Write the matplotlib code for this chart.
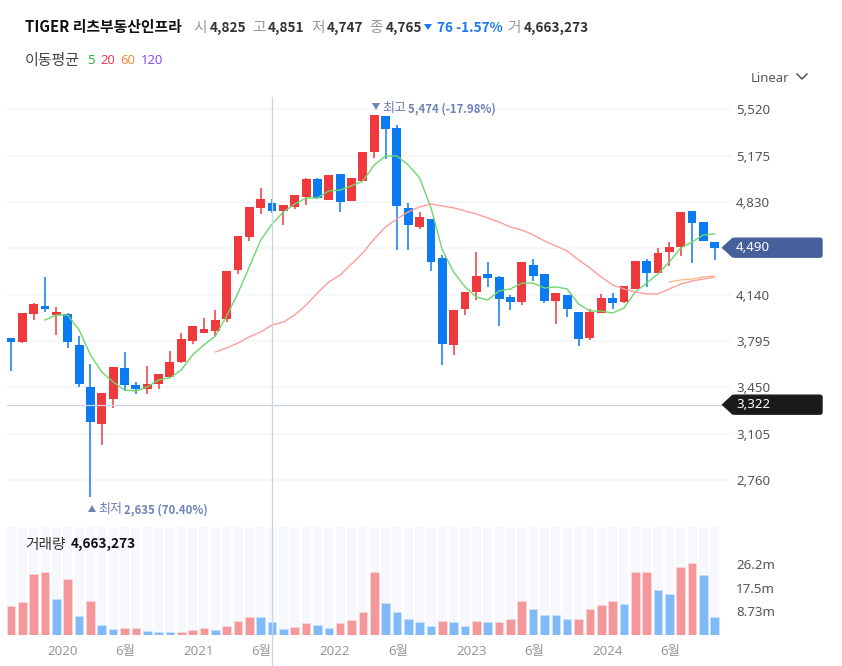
# coding=utf-8
import matplotlib
matplotlib.use('Agg')
import matplotlib.pyplot as plt
from matplotlib.patches import FancyBboxPatch, Polygon

plt.rcParams['font.family'] = ['Noto Sans', 'Noto Sans CJK KR', 'DejaVu Sans']

# 월봉 데이터
opens = [3818, 3788, 3997, 4059, 3989, 3997, 3766, 3454, 3179, 3364, 3595, 3469, 3439, 3476, 3528, 3640,
         3796, 3855, 3870, 3960, 4324, 4570, 4786, 4825, 4763, 4793, 4867, 5001, 4845, 5038, 4838, 4986,
         5202, 5470, 5381, 4786, 4644, 4704, 4413, 3766, 4034, 4161, 4295, 4272, 4123, 4086, 4361, 4295,
         4094, 4138, 4012, 3818, 4004, 4116, 4086, 4183, 4391, 4302, 4458, 4495, 4763, 4681, 4532]
highs = [3818, 4004, 4079, 4272, 4049, 4004, 3833, 3625, 3409, 3603, 3714, 3491, 3610, 3550, 3722, 3855,
         3908, 3967, 4027, 4317, 4577, 4793, 4934, 4851, 4808, 4882, 5009, 5009, 5031, 5038, 5009, 5202,
         5474, 5470, 5403, 4823, 4756, 4704, 4436, 4027, 4161, 4458, 4384, 4280, 4138, 4384, 4406, 4295,
         4153, 4138, 4012, 4034, 4146, 4153, 4205, 4391, 4406, 4488, 4532, 4756, 4763, 4681, 4532]
lows = [3575, 3781, 3952, 4012, 3841, 3744, 3454, 2635, 3022, 3297, 3424, 3402, 3402, 3439, 3528, 3632,
        3774, 3855, 3833, 3937, 4295, 4540, 4741, 4747, 4659, 4778, 4808, 4852, 4845, 4756, 4838, 4986,
        5157, 5150, 4473, 4473, 4629, 4317, 3617, 3692, 3989, 4101, 4198, 3908, 4027, 4064, 4242, 4079,
        3922, 3975, 3759, 3803, 4004, 4034, 4079, 4183, 4198, 4302, 4354, 4428, 4376, 4540, 4399]
closes = [3788, 4004, 4071, 4034, 4012, 3788, 3476, 3193, 3409, 3603, 3469, 3439, 3476, 3550, 3640, 3811,
          3908, 3885, 3952, 4317, 4577, 4793, 4852, 4765, 4808, 4882, 5001, 4860, 5031, 4830, 5009, 5202,
          5474, 5373, 4800, 4659, 4719, 4384, 3774, 4027, 4161, 4280, 4265, 4108, 4086, 4384, 4280, 4094,
          4153, 4034, 3811, 4012, 4116, 4079, 4205, 4391, 4302, 4451, 4495, 4756, 4674, 4540, 4490]

ma5 = [3952, 3989, 3989, 3878, 3692, 3565, 3491, 3431, 3424, 3454, 3506, 3521, 3580, 3692, 3766, 3833,
       3982, 4153, 4347, 4547, 4666, 4756, 4815, 4860, 4860, 4912, 4919, 4949, 4986, 5105, 5172, 5172,
       5105, 5009, 4786, 4473, 4309, 4198, 4123, 4101, 4168, 4183, 4227, 4227, 4190, 4198, 4183, 4071,
       4019, 4019, 4004, 4041, 4161, 4227, 4295, 4384, 4488, 4532, 4585, 4592]
ma20 = [3714, 3744, 3781, 3826, 3863, 3915, 3937, 3989, 4064, 4153, 4235, 4287, 4369, 4451, 4555, 4644,
        4704, 4756, 4793, 4815, 4800, 4786, 4763, 4741, 4711, 4681, 4644, 4622, 4585, 4540, 4503, 4466,
        4399, 4339, 4272, 4213, 4183, 4161, 4146, 4146, 4183, 4220, 4242, 4257, 4272]
ma60 = [4235, 4250, 4257, 4272, 4279]

volumes = [10.65, 12.4, 22.7, 23.5, 13.2, 20.8, 6.9, 12.75, 3.8, 2.1, 2.6, 2.6, 1.6, 1.2, 1.2, 1.2,
           1.7, 2.6, 1.7, 3.5, 5.2, 6.6, 6.6, 4.7, 2.1, 3.0, 4.3, 3.8, 2.6, 4.3, 5.7, 8.4,
           23.5, 11.9, 8.4, 6.1, 4.7, 3.5, 5.2, 4.7, 3.5, 5.2, 4.7, 4.7, 6.1, 12.75, 9.7, 7.4,
           7.4, 6.1, 6.1, 9.7, 11.0, 12.75, 11.4, 23.5, 23.5, 16.8, 15.1, 25.3, 26.6, 22.2, 6.6]
volume_up = [1, 1, 1, 1, 0, 1, 0, 1, 0, 0, 1, 1, 0, 0, 0, 1,
             1, 1, 0, 1, 1, 1, 0, 0, 0, 1, 1, 0, 0, 1, 1, 1,
             1, 0, 0, 0, 0, 0, 1, 0, 0, 1, 0, 1, 1, 1, 0, 0,
             0, 0, 1, 1, 1, 1, 0, 1, 1, 0, 0, 1, 1, 0, 0]

price_ticks = [5520, 5175, 4830, 4485, 4140, 3795, 3450, 3105, 2760]
price_labels = ['5,520', '5,175', '4,830', '', '4,140', '3,795', '3,450', '3,105', '2,760']
volume_ticks = [8.73, 17.5, 26.2]
volume_labels = ['8.73m', '17.5m', '26.2m']
date_ticks = [3, 9, 15, 21, 27, 33, 39, 45, 51, 57]
date_labels = ['2020', '6월', '2021', '6월', '2022', '6월', '2023', '6월', '2024', '6월']

current_price = 4490
cross_price = 3322
cross_index = 23

RED = '#f0393d'
BLUE = '#0a7bf0'
BOLD_FONT = ['Noto Sans CJK KR', 'DejaVu Sans']  # Noto Sans는 굵은 글꼴이 안 나옴
W, H = 842, 666


def pxAxes(left, top, right, bottom):  # 픽셀 좌표로 axes 만들기
    return fig.add_axes([left / W, 1 - bottom / H, (right - left) / W, (bottom - top) / H])


fig = plt.figure(figsize=(W / 100, H / 100), dpi=100)
ax = pxAxes(7, 97, 732, 520)
volAx = pxAxes(7, 527, 732, 635)
over = fig.add_axes([0, 0, 1, 1])
over.set_xlim(0, W)
over.set_ylim(H, 0)
over.axis('off')
over.patch.set_alpha(0)

xRange = (-0.352, 63.52)

# 캔들
x = list(range(len(opens)))
colors = [RED if c >= o else BLUE for o, c in zip(opens, closes)]
ax.vlines(x, lows, highs, colors=colors, linewidth=1.1, zorder=2)
ax.bar(x, [max(abs(c - o), 8) for o, c in zip(opens, closes)], bottom=[min(o, c) for o, c in zip(opens, closes)],
       width=0.78, color=colors, zorder=3, linewidth=0)
ax.plot(x[3:], ma5, color='#6ed66e', linewidth=1.0, zorder=4)
ax.plot(x[18:], ma20, color='#ff9c9c', linewidth=1.0, zorder=4)
ax.plot(x[58:], ma60, color='#f8bd8c', linewidth=1.0, zorder=4)
ax.axhline(cross_price, color='#c9d3e0', linewidth=0.9, zorder=5)

ax.set_xlim(*xRange)
ax.set_ylim(2464, 5611)
ax.set_xticks([])
ax.yaxis.tick_right()
ax.set_yticks(price_ticks)
ax.set_yticklabels(price_labels, fontsize=9.6, color='#555555')
ax.tick_params(axis='y', length=0, pad=3)
ax.grid(axis='y', color='#f5f6f8', linewidth=1.2, zorder=0)
ax.set_axisbelow(True)
for s in ax.spines.values():
    s.set_visible(False)

# 거래량
volColors = ['#f4979b' if u else '#81baf8' for u in volume_up]
volEdges = ['#fbd5d7' if u else '#c8e0fb' for u in volume_up]
volAx.bar(x, [40.1] * len(x), width=0.8, color='#f6f8fc', linewidth=0, zorder=1)
volAx.bar(x, volumes, width=0.76, color=volColors, edgecolor=volEdges, linewidth=0.6, zorder=2)
volAx.set_xlim(*xRange)
volAx.set_ylim(0, 40.1)
volAx.yaxis.tick_right()
volAx.set_yticks(volume_ticks)
volAx.set_yticklabels(volume_labels, fontsize=9.6, color='#555555')
volAx.set_xticks([d + 0.2 for d in date_ticks])
volAx.set_xticklabels(date_labels, fontsize=9.6, color='#999999', ha='left')
volAx.tick_params(axis='both', length=0)
volAx.tick_params(axis='y', pad=3)
volAx.tick_params(axis='x', pad=7)
for s in volAx.spines.values():
    s.set_visible(False)


def priceY(value):  # 가격 -> 픽셀 y
    return H - ax.transData.transform((0, value))[1]


def drawText(px, py, s, color='#222222', size=9.6, bold=False):  # py는 글자 중심, 기준선으로 맞춘다
    if bold:
        over.text(px, py + 5, s, color=color, fontsize=size, fontweight='bold', family=BOLD_FONT,
                  ha='left', va='baseline')
    else:
        over.text(px, py + 5, s, color=color, fontsize=size, ha='left', va='baseline')


# 십자선 세로
crossX = ax.transData.transform((cross_index, 0))[0]
over.plot([crossX, crossX], [97, H], color='#c9d3e0', linewidth=0.9, zorder=1)


def drawTag(value, label, color):
    y = priceY(value)
    over.add_patch(FancyBboxPatch((733, y - 9.5), 89, 19, boxstyle='round,pad=0,rounding_size=2',
                                  facecolor=color, edgecolor=color, linewidth=1, zorder=3))
    over.add_patch(Polygon([(722, y), (733, y - 10), (733, y + 10)], closed=True, facecolor=color,
                           edgecolor=color, linewidth=0.5, zorder=3))
    over.text(736, y, label, color='white', fontsize=9.6, va='center', ha='left', zorder=4)


drawTag(current_price, '4,490', '#46609c')
drawTag(cross_price, '3,322', '#1a1a1a')

# 상단 헤더
drawText(25, 27, 'TIGER 리츠부동산인프라', color='#111111', size=10.7, bold=True)
for px, s in [(193, '시'), (252, '고'), (311, '저'), (369, '종'), (507, '거')]:
    drawText(px, 27, s, color='#999999', size=10.6)
for px, s in [(210, '4,825'), (268, '4,851'), (327, '4,747'), (386, '4,765'), (524, '4,663,273')]:
    drawText(px, 27, s, color='#333333', size=9.8, bold=True)
over.add_patch(Polygon([(424, 24), (432, 24), (428, 30)], closed=True, facecolor='#1a78f0', edgecolor='none'))
drawText(437, 27, '76 -1.57%', color='#1a78f0', size=9.8, bold=True)

drawText(25, 60, '이동평균', color='#444444', size=10.8)
drawText(87, 59, '5', color='#22b83a', size=9.4)
drawText(100, 59, '20', color='#f0395a', size=9.4)
drawText(120, 59, '60', color='#f58a3c', size=9.4)
drawText(141, 59, '120', color='#8a4df0', size=9.4)

drawText(751, 77, 'Linear', color='#555555', size=9.4)
over.plot([797, 802, 807], [74, 79, 74], color='#444444', linewidth=1)

# 최고/최저 표시
NOTE = '#6f82b8'
over.add_patch(Polygon([(372, 103), (380, 103), (376, 110)], closed=True, facecolor=NOTE, edgecolor='none'))
drawText(382, 107, '최고', color=NOTE, size=9.4)
drawText(408, 107, '5,474 (-17.98%)', color=NOTE, size=8.2, bold=True)
over.add_patch(Polygon([(88, 512), (96, 512), (92, 505)], closed=True, facecolor=NOTE, edgecolor='none'))
drawText(98, 508, '최저', color=NOTE, size=9.4)
drawText(124, 508, '2,635 (70.40%)', color=NOTE, size=8.2, bold=True)

drawText(25, 544, '거래량', color='#333333', size=10.6)
drawText(71, 543, '4,663,273', color='#111111', size=9.8, bold=True)

fig.savefig('out.png', dpi=100, facecolor='white')
